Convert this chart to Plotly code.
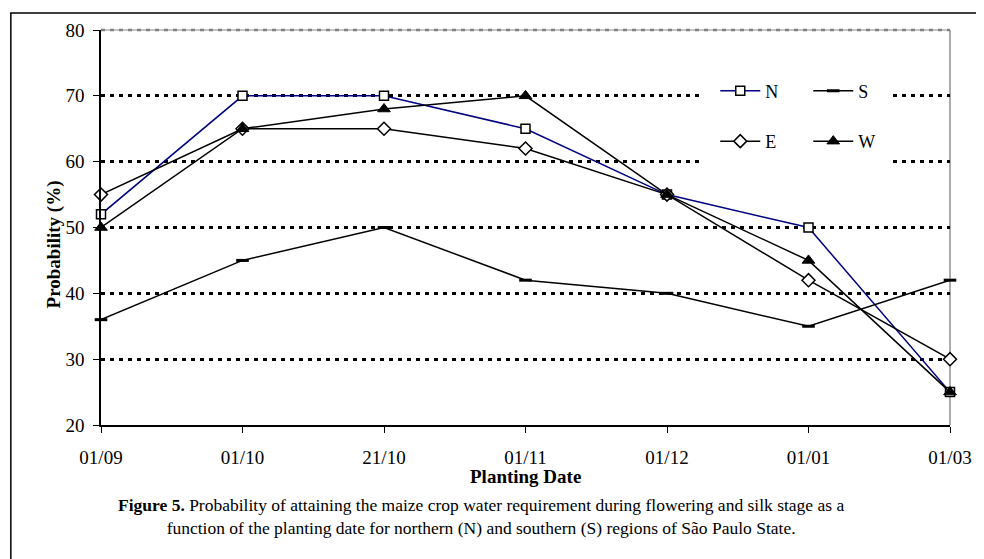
import plotly.graph_objects as go

dates = ["01/09", "01/10", "21/10", "01/11", "01/12", "01/01", "01/03"]
north = [52, 70, 70, 65, 55, 50, 25]
south = [36, 45, 50, 42, 40, 35, 42]
east = [55, 65, 65, 62, 55, 42, 30]
west = [50, 65, 68, 70, 55, 45, 25]
y_ticks = [20, 30, 40, 50, 60, 70, 80]

FONT = "Liberation Serif, Times New Roman, serif"

fig = go.Figure()
fig.add_trace(go.Scatter(x=dates, y=north, name="N", mode="lines+markers",
                         line=dict(color="#000080", width=1.5),
                         marker=dict(symbol="square", size=9, color="white",
                                     line=dict(color="black", width=1.5)),
                         cliponaxis=False, legend="legend"))
fig.add_trace(go.Scatter(x=dates, y=south, name="S", mode="lines+markers",
                         line=dict(color="black", width=1.5),
                         marker=dict(symbol="line-ew", size=9, color="black",
                                     line=dict(color="black", width=3)),
                         cliponaxis=False, legend="legend"))
fig.add_trace(go.Scatter(x=dates, y=east, name="E", mode="lines+markers",
                         line=dict(color="black", width=1.5),
                         marker=dict(symbol="diamond", size=10, color="white",
                                     line=dict(color="black", width=1.5)),
                         cliponaxis=False, legend="legend2"))
fig.add_trace(go.Scatter(x=dates, y=west, name="W", mode="lines+markers",
                         line=dict(color="black", width=1.5),
                         marker=dict(symbol="triangle-up", size=11, color="black",
                                     line=dict(color="black", width=1)),
                         cliponaxis=False, legend="legend2"))

leg_common = dict(orientation="h", xanchor="left", yanchor="middle",
                  bgcolor="rgba(0,0,0,0)", font=dict(size=18), entrywidth=38,
                  itemwidth=40)

fig.update_layout(
    width=976, height=551,
    margin=dict(l=93, r=26, t=20, b=134),
    paper_bgcolor="white", plot_bgcolor="white",
    font=dict(family=FONT, size=18, color="black"),
    xaxis=dict(type="category", range=[0, 6], showgrid=False,
               showline=True, linecolor="black", linewidth=1.5,
               ticks="outside", ticklen=6, tickcolor="black", tickwidth=1,
               tickfont=dict(size=19), zeroline=False, ticklabelstandoff=8),
    yaxis=dict(range=[20, 80], tickvals=y_ticks, showgrid=True,
               gridcolor="black", gridwidth=2.5, griddash="4px,5px",
               showline=True, linecolor="black", linewidth=1.5,
               ticks="outside", ticklen=6, tickcolor="black",
               tickfont=dict(size=19), zeroline=False, ticklabelstandoff=5),
    legend=dict(x=0.7235, y=0.8456, **leg_common),
    legend2=dict(x=0.7235, y=0.7179, **leg_common),
    shapes=[
        dict(type="rect", xref="paper", yref="paper", x0=0.7048, x1=0.9288,
             y0=0.657, y1=0.889, fillcolor="white", line=dict(width=0), layer="above"),
        dict(type="line", xref="paper", yref="paper", x0=0, x1=1, y0=1, y1=1,
             line=dict(color="#b0b0b0", width=1.5), layer="above"),
        dict(type="line", xref="paper", yref="paper", x0=0, x1=1, y0=1, y1=1,
             line=dict(color="#808080", width=2.5, dash="4px,5px"), layer="above"),
        dict(type="line", xref="paper", yref="paper", x0=1, x1=1, y0=0, y1=1,
             line=dict(color="#909090", width=1.5), layer="below"),
        dict(type="rect", xref="paper", yref="paper", x0=-0.1062, x1=1.2,
             y0=-0.5, y1=1.0428, line=dict(color="black", width=1.5),
             fillcolor="rgba(0,0,0,0)", layer="below"),
    ],
    annotations=[
        dict(xref="paper", yref="paper", x=-0.0712, y=0.456, textangle=-90,
             showarrow=False, font=dict(size=19),
             text="<b>Probability (%)</b>"),
        dict(xref="paper", yref="paper", x=0.5, y=(417 - 469) / 397, yanchor="middle",
             showarrow=False, font=dict(size=19),
             text="<b>Planting Date</b>"),
        dict(xref="paper", yref="paper", x=0.448, y=-0.2305, yanchor="middle",
             showarrow=False, align="center", font=dict(size=17.5),
             text="<b>Figure 5.</b> Probability of attaining the maize crop water requirement during flowering and silk stage as a<br>"
                  "function of the planting date for northern (N) and southern (S) regions of São Paulo State."),
    ],
)

fig.write_html("out.html")
